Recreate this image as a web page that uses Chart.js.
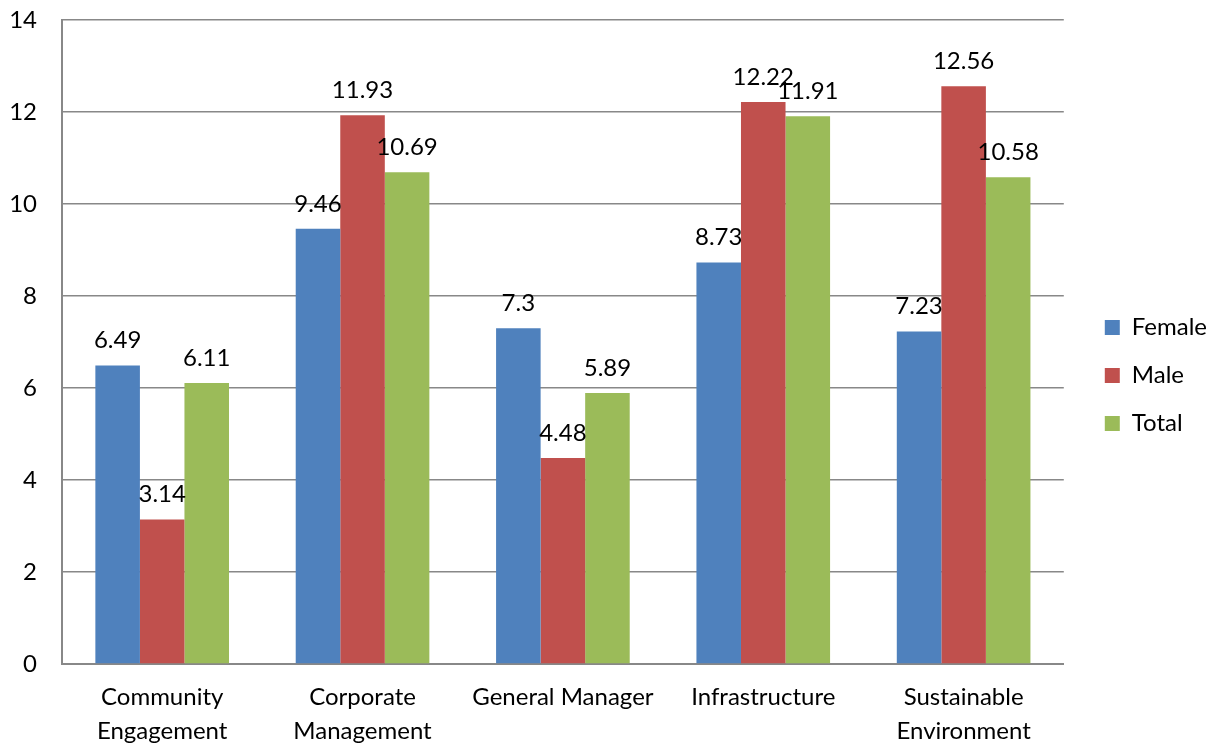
<!DOCTYPE html>
<html lang="en">
<head>
  <meta charset="UTF-8">
  <title>Scores by Department</title>
  <script src="https://cdn.jsdelivr.net/npm/chart.js"></script>
  <style>
    body {
      margin: 0;
      background: #fff;
    }
    #wrap {
      width: 1214px;
      height: 745px;
    }
  </style>
</head>
<body>
  <div id="wrap"><canvas id="deptChart"></canvas></div>

  <script>
    const categories = [
      ['Community', 'Engagement'],
      ['Corporate', 'Management'],
      ['General Manager'],
      ['Infrastructure'],
      ['Sustainable', 'Environment']
    ];
    const female = [6.49, 9.46, 7.3, 8.73, 7.23];
    const male = [3.14, 11.93, 4.48, 12.22, 12.56];
    const total = [6.11, 10.69, 5.89, 11.91, 10.58];
    const yTicks = [0, 2, 4, 6, 8, 10, 12, 14];

    const FONT = "Lato, 'Open Sans', sans-serif";
    const SIZE = 24;

    // value written above each bar
    const barValues = {
      id: 'barValues',
      afterDatasetsDraw(chart) {
        const ctx = chart.ctx;
        ctx.save();
        ctx.font = SIZE + 'px ' + FONT;
        ctx.fillStyle = '#000';
        ctx.textAlign = 'center';
        ctx.textBaseline = 'middle';
        chart.data.datasets.forEach((ds, i) => {
          chart.getDatasetMeta(i).data.forEach((bar, j) => {
            ctx.fillText(String(ds.data[j]), bar.x, bar.y - 25);
          });
        });
        ctx.restore();
      }
    };

    // nudge the legend a bit further right of the plot
    const legendShift = {
      id: 'legendShift',
      afterLayout(chart) {
        chart.legend.left += 17;
        chart.legend.right += 17;
      }
    };

    const ctx = document.getElementById('deptChart').getContext('2d');
    new Chart(ctx, {
      type: 'bar',
      data: {
        labels: categories,
        datasets: [
          { label: 'Female', data: female, backgroundColor: '#4F81BD' },
          { label: 'Male', data: male, backgroundColor: '#C0504D' },
          { label: 'Total', data: total, backgroundColor: '#9BBB59' }
        ]
      },
      options: {
        responsive: true,
        maintainAspectRatio: false,
        animation: false,
        categoryPercentage: 0.667,
        barPercentage: 1,
        layout: { padding: { top: 6, left: 10, right: 14, bottom: 0 } },
        scales: {
          x: {
            grid: { display: false, drawTicks: false },
            border: { color: '#888', width: 2 },
            ticks: {
              color: '#000',
              padding: 16,
              maxRotation: 0,
              autoSkip: false,
              font: { family: FONT, size: SIZE, lineHeight: 1.42 }
            },
            afterFit(scale) {
              scale.height = 81;
            }
          },
          y: {
            min: 0,
            max: 14,
            afterBuildTicks(axis) {
              axis.ticks = yTicks.map(v => ({ value: v }));
            },
            grid: { color: '#888', lineWidth: 1.5, drawTicks: false },
            border: { color: '#888', width: 2 },
            ticks: {
              color: '#000',
              padding: 25,
              font: { family: FONT, size: SIZE }
            },
            afterFit(scale) {
              scale.width = 52;
              scale.paddingTop = 20;
              scale.paddingBottom = 0;
            }
          }
        },
        plugins: {
          legend: {
            position: 'right',
            labels: {
              color: '#000',
              boxWidth: 15,
              boxHeight: 15,
              padding: 24,
              font: { family: FONT, size: SIZE }
            }
          },
          tooltip: { enabled: false }
        }
      },
      plugins: [barValues, legendShift]
    });
  </script>
</body>
</html>
